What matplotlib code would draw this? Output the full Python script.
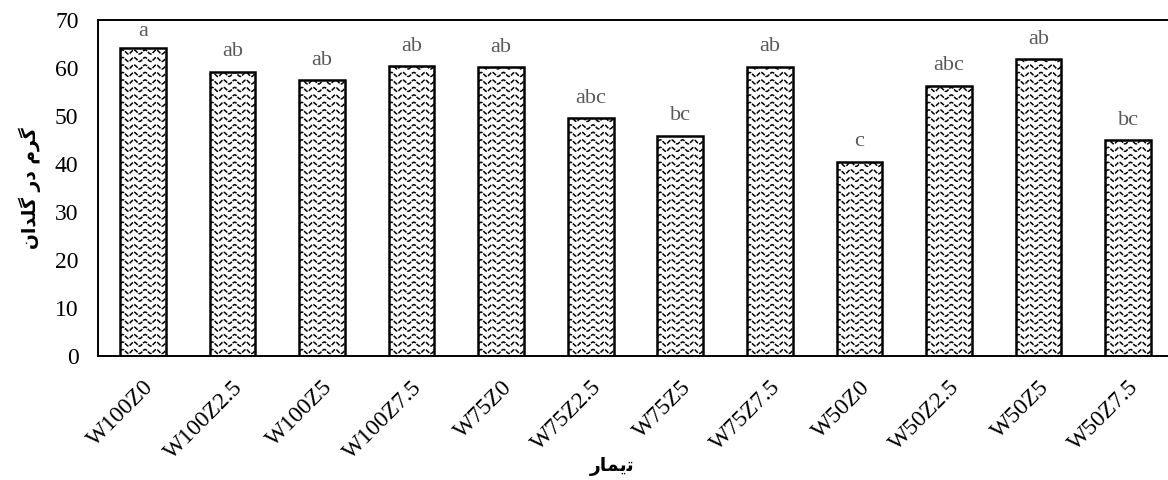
import numpy as np
import matplotlib
matplotlib.use("Agg")
import matplotlib.pyplot as plt

# treatments and dry weight (g per pot)
treatments = ["W100Z0", "W100Z2.5", "W100Z5", "W100Z7.5",
              "W75Z0", "W75Z2.5", "W75Z5", "W75Z7.5",
              "W50Z0", "W50Z2.5", "W50Z5", "W50Z7.5"]
weight = [64.2, 59.2, 57.5, 60.4, 60.2, 49.5, 45.9, 60.3, 40.5, 56.3, 61.8, 44.9]
groups = ["a", "ab", "ab", "ab", "ab", "abc", "bc", "ab", "c", "abc", "ab", "bc"]

# persian labels, pre-shaped (presentation forms, visual order)
ylab = "\uFEE5\uFE8D\uFEAA\uFEE0\uFB94 \uFEAD\uFEA9 \uFEE1\uFEAE\uFB94"   # گرم در گلدان
xlab = "\uFEAD\uFE8E\uFEE4\uFBFE\uFE97"                                  # تیمار

plt.rcParams['font.family'] = ['Liberation Serif', 'DejaVu Sans']

fig = plt.figure(figsize=(11.68, 4.8), dpi=100)
ax = fig.add_axes([98/1168, 124/480, 1075/1168, 336/480])

x = np.arange(len(treatments))
bars = ax.bar(x, weight, width=0.51, color="white", edgecolor="black",
              linewidth=1.8, zorder=3)

ax.set_xlim(-0.5, len(treatments) - 0.5)
ax.set_ylim(0, 70)

# wavy fill pattern, clipped to each bar
row = 1.56
amp = 0.42
period = 0.125
for b in bars:
    x0 = b.get_x()
    xs = np.linspace(x0 - 0.1, x0 + b.get_width() + 0.1, 240)
    for y0 in np.arange(row * 0.6, b.get_height() + row, row):
        ys = y0 + amp * np.sin(2 * np.pi * (xs - x0) / period)
        ln, = ax.plot(xs, ys, color="black", lw=1.1, ls=(0, (3.0, 0.8)), zorder=2.5)
        ln.set_clip_path(b)
    b.set_facecolor("none")

for xi, v, g in zip(x, weight, groups):
    ax.text(xi, min(v + 3.2, 66.7), g, ha="center", va="baseline",
            fontsize=16, color="#595959")

ax.set_yticks(np.arange(0, 71, 10))
ax.set_xticks(x)
ax.set_xticklabels(treatments, rotation=45, ha="right", rotation_mode="anchor")
ax.tick_params(axis="y", length=0, pad=14, labelsize=17)
ax.tick_params(axis="x", length=0, pad=15, labelsize=17)

for s in ax.spines.values():
    s.set_linewidth(1.4)

ax.set_ylabel(ylab, family=["DejaVu Sans"], fontweight="bold", fontsize=13.5)
ax.yaxis.set_label_coords(-0.053, 0.5)
ax.set_xlabel(xlab, family=["DejaVu Sans"], fontweight="bold", fontsize=13.5)
ax.xaxis.set_label_coords((612 - 98) / 1075, -0.3)

fig.savefig("out.png", dpi=100)
